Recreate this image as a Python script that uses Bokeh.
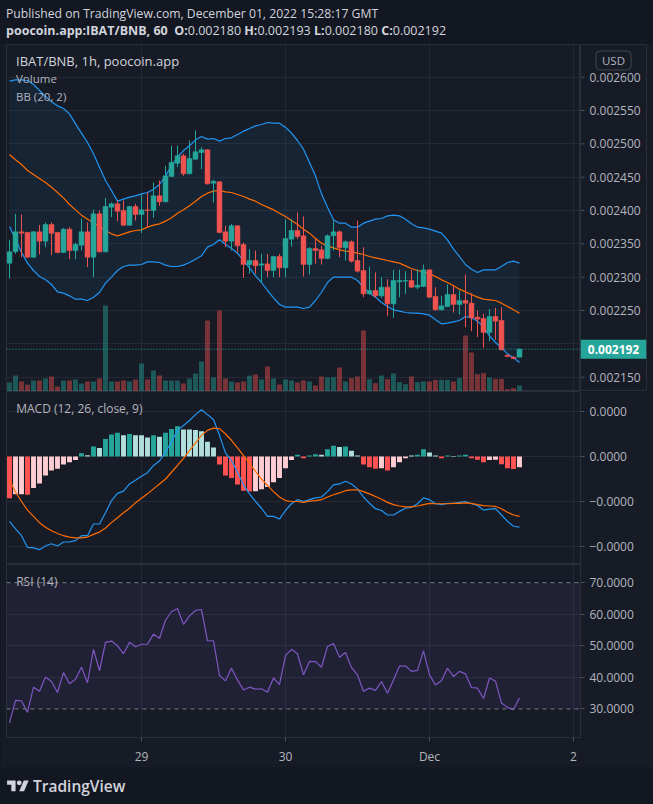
from bokeh.plotting import figure
from bokeh.models import (Range1d, FixedTicker, CustomJSTickFormatter, Span, Label, Div,
                          BoxAnnotation, ColumnDataSource)
from bokeh.layouts import column, row
from bokeh.core.properties import value
from bokeh.embed import file_html
from bokeh.resources import INLINE

# ---------------- data (prices in micro-BNB, MACD in 1e-6) ----------------
UNIT = 1e-6
hours = list(range(-22, 64))          # hours relative to 29 Nov 2022 00:00, hourly candles
day_ticks = [0, 24, 48, 72]
day_labels = ["29", "30", "Dec", "2"]

open_u = [2321, 2338, 2368, 2367, 2330, 2368, 2354, 2379, 2367, 2337,
          2372, 2340, 2348, 2368, 2330, 2395, 2338, 2405, 2410, 2400,
          2378, 2406, 2394, 2401, 2400, 2422, 2413, 2451, 2471, 2482,
          2455, 2477, 2487, 2491, 2441, 2443, 2368, 2354, 2377, 2349,
          2319, 2325, 2318, 2320, 2310, 2331, 2314, 2357, 2370, 2362,
          2319, 2343, 2341, 2328, 2362, 2368, 2344, 2353, 2325, 2310,
          2275, 2280, 2272, 2285, 2260, 2293, 2294, 2295, 2285, 2286,
          2311, 2271, 2251, 2256, 2274, 2259, 2265, 2261, 2240, 2238,
          2217, 2241, 2235, 2183, 2180, 2180]
high_u = [2356, 2395, 2394, 2368, 2369, 2378, 2382, 2382, 2368, 2374,
          2375, 2352, 2388, 2382, 2401, 2400, 2419, 2412, 2415, 2415,
          2407, 2410, 2425, 2427, 2442, 2445, 2467, 2497, 2497, 2485,
          2505, 2520, 2495, 2492, 2446, 2444, 2377, 2380, 2378, 2352,
          2342, 2340, 2335, 2335, 2332, 2335, 2387, 2387, 2397, 2391,
          2345, 2357, 2347, 2364, 2385, 2370, 2355, 2355, 2385, 2345,
          2316, 2307, 2300, 2297, 2311, 2311, 2309, 2311, 2312, 2319,
          2312, 2285, 2272, 2289, 2287, 2280, 2304, 2276, 2250, 2245,
          2252, 2254, 2255, 2184, 2181, 2193]
low_u = [2298, 2335, 2330, 2329, 2329, 2334, 2345, 2333, 2336, 2336,
         2327, 2327, 2340, 2315, 2300, 2337, 2337, 2390, 2384, 2377,
         2377, 2385, 2366, 2375, 2389, 2407, 2412, 2451, 2465, 2452,
         2454, 2476, 2462, 2439, 2412, 2366, 2345, 2340, 2337, 2299,
         2305, 2305, 2292, 2300, 2300, 2300, 2300, 2346, 2357, 2301,
         2304, 2320, 2319, 2327, 2340, 2330, 2325, 2322, 2307, 2270,
         2274, 2269, 2269, 2242, 2239, 2270, 2275, 2284, 2282, 2285,
         2269, 2250, 2250, 2255, 2247, 2244, 2225, 2219, 2210, 2194,
         2204, 2206, 2190, 2180, 2177, 2180]
close_u = [2338, 2368, 2366, 2330, 2368, 2354, 2379, 2366, 2337, 2372,
           2340, 2349, 2368, 2330, 2395, 2338, 2406, 2410, 2399, 2378,
           2406, 2394, 2401, 2400, 2422, 2413, 2452, 2472, 2482, 2455,
           2478, 2488, 2491, 2440, 2444, 2367, 2354, 2377, 2347, 2319,
           2325, 2317, 2320, 2310, 2331, 2314, 2358, 2370, 2361, 2319,
           2343, 2340, 2328, 2362, 2368, 2344, 2353, 2324, 2309, 2275,
           2280, 2272, 2285, 2260, 2295, 2295, 2295, 2285, 2288, 2311,
           2270, 2251, 2257, 2274, 2259, 2265, 2261, 2239, 2237, 2217,
           2241, 2234, 2191, 2181, 2178, 2192]
volume = [27, 48, 30, 20, 33, 33, 39, 45, 15, 33,
          33, 36, 24, 30, 30, 39, 258, 30, 30, 33,
          30, 36, 84, 36, 63, 48, 33, 33, 33, 24,
          39, 54, 90, 213, 42, 243, 39, 30, 27, 30,
          48, 51, 36, 75, 39, 21, 36, 33, 27, 33,
          30, 18, 45, 42, 43, 72, 30, 40, 45, 183,
          37, 25, 48, 37, 54, 28, 22, 45, 28, 30,
          30, 35, 35, 35, 30, 40, 168, 117, 52, 55,
          42, 38, 38, 7, 10, 18]
bb_upper_u = [2594, 2596, 2596, 2595, 2589, 2580, 2571, 2563, 2557, 2553,
              2545, 2530, 2516, 2502, 2485, 2465, 2445, 2430, 2414, 2417,
              2420, 2422, 2425, 2427, 2432, 2439, 2452, 2467, 2480, 2490,
              2497, 2506, 2511, 2507, 2508, 2504, 2508, 2509, 2514, 2519,
              2523, 2527, 2529, 2532, 2531, 2531, 2525, 2516, 2505, 2492,
              2472, 2452, 2425, 2405, 2386, 2381, 2381, 2375, 2375, 2381,
              2384, 2387, 2388, 2392, 2393, 2392, 2387, 2380, 2375, 2374,
              2372, 2369, 2366, 2356, 2342, 2331, 2319, 2312, 2307, 2311,
              2311, 2311, 2316, 2322, 2324, 2321]
bb_mid_u = [2484, 2476, 2469, 2460, 2454, 2448, 2442, 2435, 2427, 2419,
            2409, 2401, 2393, 2387, 2382, 2376, 2370, 2365, 2362, 2365,
            2368, 2370, 2371, 2375, 2378, 2380, 2384, 2389, 2396, 2401,
            2407, 2414, 2421, 2426, 2429, 2430, 2428, 2427, 2424, 2421,
            2417, 2414, 2409, 2405, 2401, 2396, 2391, 2385, 2379, 2372,
            2366, 2358, 2351, 2347, 2344, 2341, 2339, 2338, 2336, 2334,
            2331, 2329, 2327, 2325, 2323, 2321, 2317, 2313, 2310, 2308,
            2305, 2301, 2296, 2292, 2287, 2282, 2278, 2274, 2270, 2267,
            2266, 2265, 2261, 2256, 2251, 2246]
bb_lower_u = [2376, 2357, 2337, 2321, 2310, 2301, 2296, 2289, 2278, 2276,
              2272, 2267, 2267, 2265, 2270, 2277, 2291, 2300, 2310, 2316,
              2318, 2318, 2319, 2323, 2323, 2322, 2318, 2316, 2316, 2318,
              2322, 2327, 2332, 2345, 2349, 2356, 2349, 2343, 2336, 2325,
              2314, 2302, 2292, 2280, 2269, 2259, 2255, 2255, 2255, 2253,
              2255, 2265, 2277, 2292, 2300, 2300, 2300, 2300, 2295, 2285,
              2276, 2270, 2262, 2256, 2251, 2249, 2247, 2246, 2246, 2245,
              2243, 2236, 2230, 2231, 2233, 2235, 2241, 2239, 2234, 2225,
              2212, 2202, 2194, 2185, 2179, 2172]
macd_u = [-14.4, -16.1, -17.6, -20.2, -20.3, -20.7, -19.9, -19.4, -19.9, -19.0,
          -19.0, -18.7, -17.6, -17.6, -15.0, -15.0, -12.5, -9.8, -8.2, -7.7,
          -6.1, -5.3, -4.4, -3.6, -2.0, -1.0, 1.0, 3.2, 5.8, 6.9,
          8.0, 9.3, 10.4, 9.3, 8.2, 4.7, 0.8, -0.9, -3.5, -6.3,
          -8.3, -10.0, -11.5, -13.3, -13.3, -13.9, -12.0, -10.5, -9.6, -10.0,
          -9.6, -9.2, -9.0, -7.8, -6.3, -6.1, -5.5, -6.1, -7.2, -9.0,
          -10.4, -11.6, -12.0, -13.0, -13.0, -12.2, -11.5, -11.3, -10.5, -9.2,
          -9.6, -10.5, -10.7, -10.4, -10.4, -10.2, -10.0, -10.5, -10.9, -11.9,
          -11.7, -11.6, -13.0, -14.4, -15.5, -15.7]
signal_u = [-5.3, -7.9, -10.0, -11.9, -13.3, -14.7, -15.7, -16.5, -17.1, -17.6,
            -17.9, -18.1, -18.1, -17.9, -17.3, -16.8, -15.9, -14.7, -13.6, -12.5,
            -11.5, -10.3, -9.3, -8.3, -7.2, -6.1, -5.0, -3.5, -2.0, -0.4,
            1.3, 3.0, 4.7, 5.8, 6.3, 6.2, 5.0, 3.6, 1.9, 0.2,
            -1.5, -3.3, -5.0, -6.4, -7.8, -9.0, -9.8, -10.0, -10.0, -10.2,
            -9.9, -9.8, -9.6, -9.0, -8.5, -8.1, -7.6, -7.4, -7.4, -7.8,
            -8.3, -8.9, -9.5, -10.2, -10.7, -11.0, -11.2, -11.2, -11.0, -10.7,
            -10.4, -10.5, -10.5, -10.5, -10.4, -10.4, -10.3, -10.4, -10.7, -10.9,
            -11.0, -11.1, -11.6, -12.4, -13.0, -13.3]
hist_u = [-9.3, -8.4, -8.4, -8.5, -7.0, -6.0, -4.2, -3.1, -2.7, -1.8,
          -1.3, -0.8, 0.7, 0.3, 2.2, 1.9, 3.9, 4.9, 5.3, 4.7,
          5.0, 4.7, 4.7, 4.2, 4.7, 4.4, 5.3, 6.1, 6.7, 6.0,
          6.0, 5.9, 5.6, 3.3, 2.0, -1.8, -4.2, -4.8, -6.2, -7.6,
          -7.8, -7.7, -7.3, -6.8, -5.7, -4.8, -2.6, -0.8, 0.4, -0.4,
          0.2, 0.5, 0.4, 1.6, 2.4, 2.1, 2.2, 1.3, 0.2, -1.8,
          -2.4, -2.7, -2.6, -3.1, -2.4, -1.3, -0.4, 0.2, 0.4, 1.6,
          0.9, 0.2, -0.4, 0.2, 0.1, 0.2, 0.4, -0.4, -0.7, -1.3,
          -0.8, -0.7, -1.7, -2.6, -2.8, -2.4]
# G = rising above zero, L = falling above zero, R = falling below zero, P = rising below zero
hist_kind = list("RPPRPPPPPP" "PPGLGLGGGL" "GLLLGLGGGL" "LLLLLRRRRR" "RPPPPPPPGR"
                 "GGLGGLGLLR" "RRPRPPPLGG" "LLRGLGGRRR" "PPRRRP")
rsi = [25.6, 32.7, 32.6, 28.9, 36.9, 35.6, 40.1, 38.7, 35.2, 41.5,
       38.0, 39.4, 43.2, 38.3, 48.9, 42.1, 51.1, 51.5, 50.0, 47.5,
       51.1, 49.7, 50.5, 50.5, 53.7, 52.4, 58.1, 60.8, 61.8, 56.8,
       59.5, 61.2, 61.5, 51.6, 51.6, 40.6, 38.9, 42.9, 39.2, 36.0,
       36.9, 36.3, 36.4, 35.3, 39.8, 37.7, 46.9, 48.9, 47.5, 40.8,
       45.1, 45.0, 43.2, 49.8, 50.7, 46.4, 47.9, 43.1, 40.8, 35.6,
       36.6, 35.9, 38.7, 35.0, 39.2, 43.6, 43.6, 41.9, 42.2, 48.4,
       40.8, 37.6, 38.9, 42.9, 40.3, 41.9, 41.1, 36.8, 36.6, 33.3,
       39.8, 38.8, 31.9, 30.5, 29.8, 33.5]
price_ticks = [0.00215, 0.0022, 0.00225, 0.0023, 0.00235, 0.0024, 0.00245, 0.0025, 0.00255, 0.0026]
macd_ticks = [0.00001, 0.0, -0.00001, -0.00002]
rsi_ticks = [30, 40, 50, 60, 70]
last_close = 0.002192

# ---------------- styles ----------------
BG = "#171b26"
OUTER = "#131722"
GRID = "#252935"
LINE = "#2a2e39"
TXT = "#b2b5be"
HEAD = "#d1d4dc"
UPC = "#26a69a"
DNC = "#ef5350"
FONT = "Open Sans"
W = 653
PX = 1.5e-6          # price per screen pixel in the price pane

def px(v):
    return [a * UNIT for a in v]

o, h, l, c = px(open_u), px(high_u), px(low_u), px(close_u)
is_up = [cc >= oo for oo, cc in zip(o, c)]
src = ColumnDataSource(dict(
    x=hours, o=o, h=h, l=l, c=c,
    top=[max(a, b) for a, b in zip(o, c)], bot=[min(a, b) for a, b in zip(o, c)],
    col=[UPC if u else DNC for u in is_up], vol=volume,
    bbu=px(bb_upper_u), bbm=px(bb_mid_u), bbl=px(bb_lower_u),
    macd=px(macd_u), sig=px(signal_u), hist=px(hist_u),
    hcol=[{"G": "#26a69a", "L": "#b2dfdb", "R": "#ff5252", "P": "#ffcdd2"}[k] for k in hist_kind],
    rsi=rsi))

xr = Range1d(-22.5, 73.17)


def style_grid(p):
    p.xgrid.ticker = FixedTicker(ticks=day_ticks)
    p.xgrid.grid_line_color = GRID
    p.ygrid.grid_line_color = GRID


def style_axis(ax):
    ax.axis_line_color = None
    ax.major_tick_line_color = "#4a4e59"
    ax.major_tick_out = 4
    ax.major_tick_in = 0
    ax.minor_tick_line_color = None
    ax.major_label_text_color = TXT
    ax.major_label_text_font = FONT
    ax.major_label_text_font_size = "12px"


def make_fig(width, height, yr, bottom=0, top=0, right=73, xaxis=False, yaxis=True):
    p = figure(width=width, height=height, x_range=xr, y_range=yr, output_backend="svg",
               toolbar_location=None, x_axis_location="below" if xaxis else None,
               y_axis_location="right" if yaxis else None, min_border_left=6,
               min_border_right=right, min_border_top=top, min_border_bottom=bottom,
               background_fill_color=BG, border_fill_color=BG,
               outline_line_color=LINE, outline_line_width=1)
    style_grid(p)
    if yaxis:
        style_axis(p.yaxis[0])
        p.yaxis[0].major_label_standoff = 5
    return p


def pane_label(p, text, x, y, size="12px", color=TXT):
    p.add_layout(Label(x=x, y=y, x_units="screen", y_units="screen", text=text,
                       text_font=FONT, text_font_size=size, text_color=color,
                       text_baseline="middle", text_align="left"))


# ---------------- price pane (plot area) ----------------
price_range = Range1d(0.0021285, 0.002649)
price = make_fig(580, 348, price_range, top=1, right=0, yaxis=False)
price.extra_y_ranges = {"vol": Range1d(0, 1041)}
price.ygrid.ticker = FixedTicker(ticks=price_ticks)

price.varea(x="x", y1="bbl", y2="bbu", source=src, fill_color="#2196f3", fill_alpha=0.07)
price.vbar(x="x", top="vol", bottom=0, width=0.82, source=src, y_range_name="vol",
           fill_color="col", fill_alpha=0.45, line_color=None)
price.line(x="x", y="bbu", source=src, line_color="#2196f3", line_width=1.2)
price.line(x="x", y="bbl", source=src, line_color="#2196f3", line_width=1.2)
price.line(x="x", y="bbm", source=src, line_color="#ff6d00", line_width=1.2)
price.segment(x0="x", y0="l", x1="x", y1="h", source=src, line_color="col", line_width=1)
price.vbar(x="x", top="top", bottom="bot", width=0.82, source=src,
           fill_color="col", line_color="col", line_width=0.5)
price.add_layout(Span(location=last_close, dimension="width", line_color=UPC,
                      line_dash="1 2", line_width=1))
pane_label(price, "IBAT/BNB, 1h, poocoin.app", 9.5, 330.5, "13px", HEAD)
pane_label(price, "Volume", 9.5, 313.5, "11.5px", TXT)
pane_label(price, "BB (20, 2)", 9.5, 295.5, "11.5px", TXT)

# ---------------- price scale (right-hand strip) ----------------
pax = figure(width=73, height=348, x_range=Range1d(0, 66), y_range=price_range,
             output_backend="svg", toolbar_location=None, x_axis_location=None,
             y_axis_location=None, min_border_left=0, min_border_right=7,
             min_border_top=1, min_border_bottom=0, background_fill_color=BG,
             border_fill_color=BG, outline_line_color=LINE)
pax.grid.visible = False
shown = [t for t in price_ticks if abs(t - last_close) > 1.2e-5]
tick_src = ColumnDataSource(dict(y=shown, lab=[f"{t:.6f}" for t in shown]))
pax.segment(x0=0, y0="y", x1=4, y1="y", source=tick_src, line_color="#4a4e59", line_width=1)
pax.text(x=9, y="y", text="lab", source=tick_src, text_font=value(FONT),
         text_font_size="12px", text_color=TXT, text_baseline="middle", text_align="left")
pax.quad(left=0, right=66, bottom=last_close - 9.5 * PX, top=last_close + 9.5 * PX,
         fill_color=UPC, line_color=None)
pax.text(x=[33], y=[last_close], text=[f"{last_close:.6f}"], text_font=value(FONT),
         text_font_size="12px", text_font_style="bold", text_color="#ffffff",
         text_baseline="middle", text_align="center")
pax.add_layout(Label(x=33, y=331, x_units="screen", y_units="screen", text="USD",
                     text_font=FONT, text_font_size="11.5px", text_color=TXT,
                     text_baseline="middle", text_align="center",
                     border_line_color="#434651", border_radius=4, padding=(6, 2)))

# ---------------- MACD pane ----------------
macd = make_fig(W, 173, Range1d(-0.000024, 0.00001444))
macd.yaxis.ticker = FixedTicker(ticks=macd_ticks)
macd.ygrid.ticker = FixedTicker(ticks=macd_ticks)
macd.yaxis.formatter = CustomJSTickFormatter(code="return tick.toFixed(4).replace('-', '\u2212');")
macd.vbar(x="x", top="hist", bottom=0, width=0.82, source=src, fill_color="hcol", line_color=None)
macd.line(x="x", y="macd", source=src, line_color="#2196f3", line_width=1.2)
macd.line(x="x", y="sig", source=src, line_color="#ff6d00", line_width=1.2)
pane_label(macd, "MACD (12, 26, close, 9)", 9.7, 156)

# ---------------- RSI pane ----------------
rsip = make_fig(W, 203, Range1d(20.96, 75.76), bottom=29, xaxis=True)
rsip.yaxis.ticker = FixedTicker(ticks=rsi_ticks)
rsip.ygrid.ticker = FixedTicker(ticks=[40, 50, 60])
rsip.yaxis.formatter = CustomJSTickFormatter(code="return tick.toFixed(4);")
rsip.add_layout(BoxAnnotation(bottom=30, top=70, fill_color="#7e57c2", fill_alpha=0.1,
                              line_color=None, level="underlay"))
for lv in (30, 70):
    rsip.add_layout(Span(location=lv, dimension="width", line_color="#787b86",
                         line_dash="4 4", line_width=1))
rsip.line(x="x", y="rsi", source=src, line_color="#7e57c2", line_width=1.2)
xa = rsip.xaxis[0]
xa.ticker = FixedTicker(ticks=day_ticks)
xa.major_label_overrides = {t: s for t, s in zip(day_ticks, day_labels)}
style_axis(xa)
xa.major_label_standoff = 6
pane_label(rsip, "RSI (14)", 9.7, 155.7)

# ---------------- header / footer ----------------
header = Div(width=W, height=43, margin=0, styles={"background-color": OUTER},
             text=(f"<div style=\"font-family:'{FONT}',sans-serif;color:{HEAD};"
                   "line-height:17px;padding:5px 0 0 6px;white-space:nowrap\">"
                   "<span style='font-size:12.2px'>Published on TradingView.com, December 01, 2022 15:28:17 GMT</span><br>"
                   "<span style='font-size:12.5px'><b>poocoin.app:IBAT/BNB, 60</b>&nbsp; <b>O:</b>0.002180 <b>H:</b>0.002193 "
                   "<b>L:</b>0.002180 <b>C:</b>0.002192</span></div>"))
logo = ("<svg width='22' height='17' viewBox='0 0 36 28' style='vertical-align:-3px'>"
        "<path d='M14 22H7V11H0V4h14v18z' fill='#d1d4dc'/>"
        "<circle cx='20' cy='8' r='4' fill='#d1d4dc'/>"
        "<path d='M28 22h-8l7.5-18h8L28 22z' fill='#d1d4dc'/></svg>")
footer = Div(width=W, height=37, margin=0, styles={"background-color": OUTER},
             text=(f"<div style=\"font-family:'{FONT}',sans-serif;color:{HEAD};font-size:15.5px;"
                   f"font-weight:600;padding:8px 0 0 7px;white-space:nowrap\">{logo} TradingView</div>"))

layout = column(header, row(price, pax, spacing=0), macd, rsip, footer, spacing=0,
                styles={"position": "absolute", "left": "0px", "top": "0px",
                        "background-color": OUTER})

open("out.html", "w").write(file_html(layout, INLINE))
